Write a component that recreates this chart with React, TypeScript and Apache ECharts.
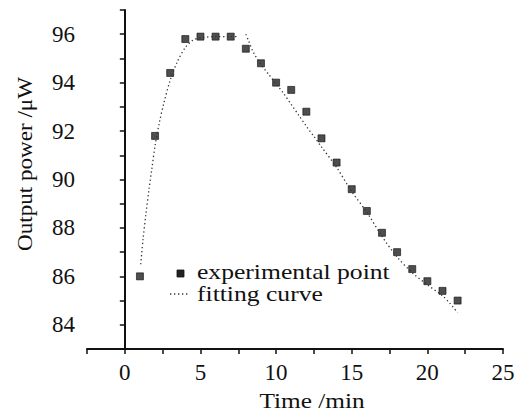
import React, { useEffect, useRef } from "react";
import * as echarts from "echarts";

const expX = [1, 2, 3, 4, 5, 6, 7, 8, 9, 10, 11, 12, 13, 14, 15, 16, 17, 18, 19, 20, 21, 22];
const expY = [86.0, 91.8, 94.4, 95.8, 95.9, 95.9, 95.9, 95.4, 94.8, 94.0, 93.7, 92.8, 91.7, 90.7, 89.6, 88.7, 87.8, 87.0, 86.3, 85.8, 85.4, 85.0];

const riseX = [1.05, 1.2, 1.4, 1.6, 1.8, 2.0, 2.3, 2.6, 3.0, 3.5, 4.0, 4.5, 5.0, 6.0, 7.0, 7.5];
const riseY = [86.5, 87.5, 88.6, 89.6, 90.5, 91.4, 92.4, 93.2, 94.1, 94.9, 95.45, 95.75, 95.85, 95.9, 95.9, 95.9];

const fallX = [8.0, 8.2, 8.5, 9.0, 9.5, 10, 10.5, 11, 11.5, 12, 12.5, 13, 14, 15, 16, 17, 18, 19, 20, 21, 21.5, 22];
const fallY = [96.0, 95.7, 95.25, 94.75, 94.35, 93.95, 93.55, 93.1, 92.65, 92.2, 91.78, 91.35, 90.5, 89.5, 88.65, 87.65, 86.8, 86.15, 85.65, 85.2, 84.88, 84.5];

const xTicks = [0, 5, 10, 15, 20, 25];
const yTicks = [84, 86, 88, 90, 92, 94, 96];

const legendNames = ["experimental point", "fitting curve"];
const xTitle = "Time /min";
const yTitle = "Output power /\u03bcW";

const FONT = "serif";

export default function App() {
  const ref = useRef<HTMLDivElement>(null);
  useEffect(() => {
    if (!ref.current) return;
    const chart = echarts.init(ref.current, null, { renderer: "svg" });
    const zip = (xs: number[], ys: number[]) => xs.map((x, i) => [x, ys[i]]);
    const curveStyle = { color: "#333", width: 1.3, type: [1.3, 2.7] as any };
    const textStyle = { fontFamily: FONT, fontSize: 21, fill: "#111" };
    const labelStyle = { fontFamily: FONT, fontSize: 23, color: "#111" };
    chart.setOption({
      animation: false,
      backgroundColor: "#fff",
      textStyle: { fontFamily: FONT },
      grid: { left: 87, right: 22, top: 10, bottom: 69 },
      xAxis: {
        type: "value",
        min: -2.5,
        max: 25,
        interval: 2.5,
        axisLine: { onZero: false, lineStyle: { color: "#111", width: 2 } },
        axisTick: { show: true, length: 5, lineStyle: { color: "#111", width: 1.5 } },
        axisLabel: {
          ...labelStyle,
          margin: 12,
          formatter: (v: number) => (xTicks.includes(v) ? String(v) : ""),
        },
        splitLine: { show: false },
      },
      yAxis: {
        type: "value",
        min: 83,
        max: 97,
        interval: 1,
        axisLine: { show: true, lineStyle: { color: "#111", width: 2 } },
        axisTick: { show: true, length: 5, lineStyle: { color: "#111", width: 1.5 } },
        axisLabel: {
          ...labelStyle,
          margin: 12,
          formatter: (v: number) => (yTicks.includes(v) ? String(v) : ""),
        },
        splitLine: { show: false },
      },
      graphic: [
        {
          type: "text",
          x: 312,
          y: 401,
          scaleX: 1.15,
          style: { ...textStyle, fontSize: 22, text: xTitle, align: "center", verticalAlign: "middle" },
        },
        {
          type: "text",
          x: 25,
          y: 164,
          rotation: Math.PI / 2,
          scaleX: 1.05,
          style: { ...textStyle, fontSize: 22, text: yTitle, align: "center", verticalAlign: "middle" },
        },
        {
          type: "rect",
          shape: { x: 177, y: 270, width: 7, height: 7 },
          style: { fill: "#222", stroke: "#111", lineWidth: 0.8 },
        },
        {
          type: "text",
          x: 197,
          y: 272,
          scaleX: 1.22,
          style: { ...textStyle, text: legendNames[0], align: "left", verticalAlign: "middle" },
        },
        {
          type: "line",
          shape: { x1: 170, y1: 294, x2: 190, y2: 294 },
          style: { stroke: "#333", lineWidth: 1.3, lineDash: [1.3, 2.7] },
        },
        {
          type: "text",
          x: 197,
          y: 294,
          scaleX: 1.22,
          style: { ...textStyle, text: legendNames[1], align: "left", verticalAlign: "middle" },
        },
      ],
      series: [
        {
          name: legendNames[1],
          type: "line",
          data: zip(riseX, riseY),
          symbol: "none",
          smooth: 0.3,
          lineStyle: curveStyle,
        },
        {
          name: legendNames[1],
          type: "line",
          data: zip(fallX, fallY),
          symbol: "none",
          smooth: 0.3,
          lineStyle: curveStyle,
        },
        {
          name: legendNames[0],
          type: "scatter",
          data: zip(expX, expY),
          symbol: "rect",
          symbolSize: 7,
          itemStyle: { color: "#222", borderColor: "#111", borderWidth: 0.8 },
        },
      ],
    });
    return () => chart.dispose();
  }, []);
  return <div ref={ref} style={{ width: 525, height: 418, margin: -8 }} />;
}
